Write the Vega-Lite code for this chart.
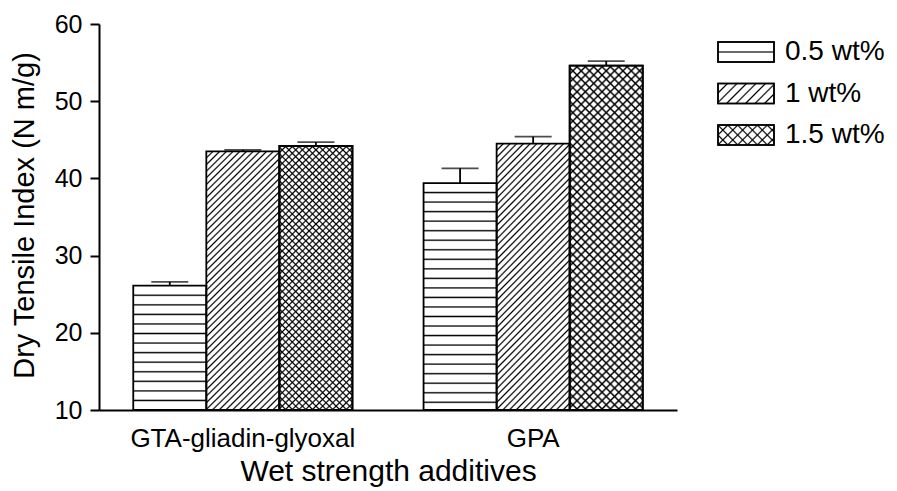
{
  "$schema": "https://vega.github.io/schema/vega-lite/v6.json",
  "width": 578,
  "height": 386,
  "autosize": {"type": "none"},
  "padding": {"left": 99, "top": 24, "right": 220, "bottom": 81},
  "background": "white",
  "config": {
    "font": "Liberation Sans",
    "view": {"stroke": null},
    "axis": {"labelColor": "black", "titleColor": "black", "domainColor": "black", "tickColor": "black", "titleFontWeight": "normal", "grid": false}
  },
  "params": [
    {"name": "sC", "value": [
      {"offset":0.015,"color":"transparent"},{"offset":0.02,"color":"black"},{"offset":0.025,"color":"transparent"},
      {"offset":0.035,"color":"transparent"},{"offset":0.04,"color":"black"},{"offset":0.045,"color":"transparent"},
      {"offset":0.055,"color":"transparent"},{"offset":0.06,"color":"black"},{"offset":0.065,"color":"transparent"},
      {"offset":0.075,"color":"transparent"},{"offset":0.08,"color":"black"},{"offset":0.085,"color":"transparent"},
      {"offset":0.095,"color":"transparent"},{"offset":0.1,"color":"black"},{"offset":0.105,"color":"transparent"},
      {"offset":0.115,"color":"transparent"},{"offset":0.12,"color":"black"},{"offset":0.125,"color":"transparent"},
      {"offset":0.135,"color":"transparent"},{"offset":0.14,"color":"black"},{"offset":0.145,"color":"transparent"},
      {"offset":0.155,"color":"transparent"},{"offset":0.16,"color":"black"},{"offset":0.165,"color":"transparent"},
      {"offset":0.175,"color":"transparent"},{"offset":0.18,"color":"black"},{"offset":0.185,"color":"transparent"},
      {"offset":0.195,"color":"transparent"},{"offset":0.2,"color":"black"},{"offset":0.205,"color":"transparent"},
      {"offset":0.215,"color":"transparent"},{"offset":0.22,"color":"black"},{"offset":0.225,"color":"transparent"},
      {"offset":0.235,"color":"transparent"},{"offset":0.24,"color":"black"},{"offset":0.245,"color":"transparent"},
      {"offset":0.255,"color":"transparent"},{"offset":0.26,"color":"black"},{"offset":0.265,"color":"transparent"},
      {"offset":0.275,"color":"transparent"},{"offset":0.28,"color":"black"},{"offset":0.285,"color":"transparent"},
      {"offset":0.295,"color":"transparent"},{"offset":0.3,"color":"black"},{"offset":0.305,"color":"transparent"},
      {"offset":0.315,"color":"transparent"},{"offset":0.32,"color":"black"},{"offset":0.325,"color":"transparent"},
      {"offset":0.335,"color":"transparent"},{"offset":0.34,"color":"black"},{"offset":0.345,"color":"transparent"},
      {"offset":0.355,"color":"transparent"},{"offset":0.36,"color":"black"},{"offset":0.365,"color":"transparent"},
      {"offset":0.375,"color":"transparent"},{"offset":0.38,"color":"black"},{"offset":0.385,"color":"transparent"},
      {"offset":0.395,"color":"transparent"},{"offset":0.4,"color":"black"},{"offset":0.405,"color":"transparent"},
      {"offset":0.415,"color":"transparent"},{"offset":0.42,"color":"black"},{"offset":0.425,"color":"transparent"},
      {"offset":0.435,"color":"transparent"},{"offset":0.44,"color":"black"},{"offset":0.445,"color":"transparent"},
      {"offset":0.455,"color":"transparent"},{"offset":0.46,"color":"black"},{"offset":0.465,"color":"transparent"},
      {"offset":0.475,"color":"transparent"},{"offset":0.48,"color":"black"},{"offset":0.485,"color":"transparent"},
      {"offset":0.495,"color":"transparent"},{"offset":0.5,"color":"black"},{"offset":0.505,"color":"transparent"},
      {"offset":0.515,"color":"transparent"},{"offset":0.52,"color":"black"},{"offset":0.525,"color":"transparent"},
      {"offset":0.535,"color":"transparent"},{"offset":0.54,"color":"black"},{"offset":0.545,"color":"transparent"},
      {"offset":0.555,"color":"transparent"},{"offset":0.56,"color":"black"},{"offset":0.565,"color":"transparent"},
      {"offset":0.575,"color":"transparent"},{"offset":0.58,"color":"black"},{"offset":0.585,"color":"transparent"},
      {"offset":0.595,"color":"transparent"},{"offset":0.6,"color":"black"},{"offset":0.605,"color":"transparent"},
      {"offset":0.615,"color":"transparent"},{"offset":0.62,"color":"black"},{"offset":0.625,"color":"transparent"},
      {"offset":0.635,"color":"transparent"},{"offset":0.64,"color":"black"},{"offset":0.645,"color":"transparent"},
      {"offset":0.655,"color":"transparent"},{"offset":0.66,"color":"black"},{"offset":0.665,"color":"transparent"},
      {"offset":0.675,"color":"transparent"},{"offset":0.68,"color":"black"},{"offset":0.685,"color":"transparent"},
      {"offset":0.695,"color":"transparent"},{"offset":0.7,"color":"black"},{"offset":0.705,"color":"transparent"},
      {"offset":0.715,"color":"transparent"},{"offset":0.72,"color":"black"},{"offset":0.725,"color":"transparent"},
      {"offset":0.735,"color":"transparent"},{"offset":0.74,"color":"black"},{"offset":0.745,"color":"transparent"},
      {"offset":0.755,"color":"transparent"},{"offset":0.76,"color":"black"},{"offset":0.765,"color":"transparent"},
      {"offset":0.775,"color":"transparent"},{"offset":0.78,"color":"black"},{"offset":0.785,"color":"transparent"},
      {"offset":0.795,"color":"transparent"},{"offset":0.8,"color":"black"},{"offset":0.805,"color":"transparent"},
      {"offset":0.815,"color":"transparent"},{"offset":0.82,"color":"black"},{"offset":0.825,"color":"transparent"},
      {"offset":0.835,"color":"transparent"},{"offset":0.84,"color":"black"},{"offset":0.845,"color":"transparent"},
      {"offset":0.855,"color":"transparent"},{"offset":0.86,"color":"black"},{"offset":0.865,"color":"transparent"},
      {"offset":0.875,"color":"transparent"},{"offset":0.88,"color":"black"},{"offset":0.885,"color":"transparent"},
      {"offset":0.895,"color":"transparent"},{"offset":0.9,"color":"black"},{"offset":0.905,"color":"transparent"},
      {"offset":0.915,"color":"transparent"},{"offset":0.92,"color":"black"},{"offset":0.925,"color":"transparent"},
      {"offset":0.935,"color":"transparent"},{"offset":0.94,"color":"black"},{"offset":0.945,"color":"transparent"},
      {"offset":0.955,"color":"transparent"},{"offset":0.96,"color":"black"},{"offset":0.965,"color":"transparent"},
      {"offset":0.975,"color":"transparent"},{"offset":0.98,"color":"black"},{"offset":0.985,"color":"transparent"}
    ]},
    {"name": "hA", "value": [
      {"offset":0.0659,"color":"transparent"},{"offset":0.0769,"color":"black"},{"offset":0.0879,"color":"transparent"},
      {"offset":0.1428,"color":"transparent"},{"offset":0.1538,"color":"black"},{"offset":0.1648,"color":"transparent"},
      {"offset":0.2198,"color":"transparent"},{"offset":0.2308,"color":"black"},{"offset":0.2418,"color":"transparent"},
      {"offset":0.2967,"color":"transparent"},{"offset":0.3077,"color":"black"},{"offset":0.3187,"color":"transparent"},
      {"offset":0.3736,"color":"transparent"},{"offset":0.3846,"color":"black"},{"offset":0.3956,"color":"transparent"},
      {"offset":0.4505,"color":"transparent"},{"offset":0.4615,"color":"black"},{"offset":0.4725,"color":"transparent"},
      {"offset":0.5275,"color":"transparent"},{"offset":0.5385,"color":"black"},{"offset":0.5495,"color":"transparent"},
      {"offset":0.6044,"color":"transparent"},{"offset":0.6154,"color":"black"},{"offset":0.6264,"color":"transparent"},
      {"offset":0.6813,"color":"transparent"},{"offset":0.6923,"color":"black"},{"offset":0.7033,"color":"transparent"},
      {"offset":0.7582,"color":"transparent"},{"offset":0.7692,"color":"black"},{"offset":0.7802,"color":"transparent"},
      {"offset":0.8352,"color":"transparent"},{"offset":0.8462,"color":"black"},{"offset":0.8572,"color":"transparent"},
      {"offset":0.9121,"color":"transparent"},{"offset":0.9231,"color":"black"},{"offset":0.9341,"color":"transparent"}
    ]},
    {"name": "hB", "value": [
      {"offset":0.036,"color":"transparent"},{"offset":0.042,"color":"black"},{"offset":0.048,"color":"transparent"},
      {"offset":0.078,"color":"transparent"},{"offset":0.084,"color":"black"},{"offset":0.09,"color":"transparent"},
      {"offset":0.12,"color":"transparent"},{"offset":0.126,"color":"black"},{"offset":0.132,"color":"transparent"},
      {"offset":0.162,"color":"transparent"},{"offset":0.168,"color":"black"},{"offset":0.174,"color":"transparent"},
      {"offset":0.204,"color":"transparent"},{"offset":0.21,"color":"black"},{"offset":0.216,"color":"transparent"},
      {"offset":0.246,"color":"transparent"},{"offset":0.252,"color":"black"},{"offset":0.258,"color":"transparent"},
      {"offset":0.288,"color":"transparent"},{"offset":0.294,"color":"black"},{"offset":0.3,"color":"transparent"},
      {"offset":0.33,"color":"transparent"},{"offset":0.336,"color":"black"},{"offset":0.342,"color":"transparent"},
      {"offset":0.372,"color":"transparent"},{"offset":0.378,"color":"black"},{"offset":0.384,"color":"transparent"},
      {"offset":0.414,"color":"transparent"},{"offset":0.42,"color":"black"},{"offset":0.426,"color":"transparent"},
      {"offset":0.456,"color":"transparent"},{"offset":0.462,"color":"black"},{"offset":0.468,"color":"transparent"},
      {"offset":0.498,"color":"transparent"},{"offset":0.504,"color":"black"},{"offset":0.51,"color":"transparent"},
      {"offset":0.54,"color":"transparent"},{"offset":0.546,"color":"black"},{"offset":0.552,"color":"transparent"},
      {"offset":0.582,"color":"transparent"},{"offset":0.588,"color":"black"},{"offset":0.594,"color":"transparent"},
      {"offset":0.624,"color":"transparent"},{"offset":0.63,"color":"black"},{"offset":0.636,"color":"transparent"},
      {"offset":0.666,"color":"transparent"},{"offset":0.672,"color":"black"},{"offset":0.678,"color":"transparent"},
      {"offset":0.708,"color":"transparent"},{"offset":0.714,"color":"black"},{"offset":0.72,"color":"transparent"},
      {"offset":0.75,"color":"transparent"},{"offset":0.756,"color":"black"},{"offset":0.762,"color":"transparent"},
      {"offset":0.792,"color":"transparent"},{"offset":0.798,"color":"black"},{"offset":0.804,"color":"transparent"},
      {"offset":0.834,"color":"transparent"},{"offset":0.84,"color":"black"},{"offset":0.846,"color":"transparent"},
      {"offset":0.876,"color":"transparent"},{"offset":0.882,"color":"black"},{"offset":0.888,"color":"transparent"},
      {"offset":0.918,"color":"transparent"},{"offset":0.924,"color":"black"},{"offset":0.93,"color":"transparent"},
      {"offset":0.96,"color":"transparent"},{"offset":0.966,"color":"black"},{"offset":0.972,"color":"transparent"}
    ]}
  ],
  "data": {"values": [
    {"additive": "GTA-gliadin-glyoxal", "conc": "0.5 wt%", "value": 26.1, "upper": 26.6},
    {"additive": "GTA-gliadin-glyoxal", "conc": "1 wt%", "value": 43.5, "upper": 43.7},
    {"additive": "GTA-gliadin-glyoxal", "conc": "1.5 wt%", "value": 44.2, "upper": 44.7},
    {"additive": "GPA", "conc": "0.5 wt%", "value": 39.4, "upper": 41.3},
    {"additive": "GPA", "conc": "1 wt%", "value": 44.5, "upper": 45.4},
    {"additive": "GPA", "conc": "1.5 wt%", "value": 54.6, "upper": 55.2}
  ]},
  "encoding": {
    "x": {
      "field": "additive", "type": "nominal",
      "sort": ["GTA-gliadin-glyoxal", "GPA"],
      "scale": {"paddingInner": 0.245, "paddingOuter": 0.118},
      "axis": {"title": "Wet strength additives", "labelAngle": 0, "ticks": false, "tickSize": 0, "labelPadding": 15, "labelFontSize": 26, "labelLimit": 0, "titleFontSize": 30, "titleY": 70, "titleBaseline": "alphabetic", "domainWidth": 2}
    },
    "xOffset": {"field": "conc", "type": "nominal", "sort": ["0.5 wt%", "1 wt%", "1.5 wt%"], "scale": {"paddingInner": 0, "paddingOuter": 0}},
    "y": {
      "field": "value", "type": "quantitative",
      "scale": {"domain": [10, 60], "nice": false, "zero": false},
      "axis": {"title": "Dry Tensile Index (N m/g)", "values": [10, 20, 30, 40, 50, 60], "tickSize": 9, "tickWidth": 2, "domainWidth": 2, "labelPadding": 8, "labelFontSize": 25, "titleFontSize": 29, "titleX": -66, "titleY": 191, "titleBaseline": "alphabetic"}
    }
  },
  "layer": [
    {
      "mark": {"type": "bar", "stroke": "black", "strokeWidth": 1.8,
        "fill": {"expr": "datum.conc==='0.5 wt%' ? {gradient:'linear',x1:0,y1:0,x2:0,y2:1,stops:(datum.additive==='GPA'?hB:hA)} : datum.conc==='1 wt%' ? {gradient:'linear',x1:0,y1:0,x2:0.3309,y2:1.1866,stops:sC} : datum.additive==='GPA' ? {gradient:'linear',x1:0,y1:0,x2:0.2462,y2:1.16,stops:sC} : {gradient:'linear',x1:0,y1:0,x2:0.3282,y2:1.1859,stops:sC}"}},
      "encoding": {"y2": {"datum": 10}}
    },
    {
      "transform": [{"filter": "datum.conc==='1.5 wt%'"}],
      "mark": {"type": "bar", "stroke": "black", "strokeWidth": 1.8,
        "fill": {"expr": "datum.additive==='GPA' ? {gradient:'linear',x1:0,y1:1,x2:0.2462,y2:-0.16,stops:sC} : {gradient:'linear',x1:0,y1:1,x2:0.3282,y2:-0.1859,stops:sC}"}},
      "encoding": {"y2": {"datum": 10}}
    },
    {
      "mark": {"type": "rule", "color": "black", "strokeWidth": 1.8},
      "encoding": {"y2": {"field": "upper"}}
    },
    {
      "mark": {"type": "tick", "color": "black", "size": 37, "thickness": 1.8},
      "encoding": {"y": {"field": "upper", "type": "quantitative"}}
    },
    {
      "transform": [{"filter": "false"}],
      "mark": {"type": "bar", "stroke": "black"},
      "encoding": {
        "y2": {"datum": 10},
        "fill": {
          "field": "conc", "type": "nominal",
          "scale": {"domain": ["0.5 wt%", "1 wt%", "1.5 wt%"], "range": [
            {"expr": "{gradient:'linear',x1:0,y1:0,x2:0,y2:1,stops:[{offset:0.44,color:'transparent'},{offset:0.5,color:'black'},{offset:0.56,color:'transparent'}]}"},
            {"expr": "{gradient:'linear',x1:0,y1:0,x2:1.2036,y2:0.4299,stops:[{offset:0.103,color:'transparent'},{offset:0.125,color:'black'},{offset:0.147,color:'transparent'},{offset:0.228,color:'transparent'},{offset:0.25,color:'black'},{offset:0.272,color:'transparent'},{offset:0.353,color:'transparent'},{offset:0.375,color:'black'},{offset:0.397,color:'transparent'},{offset:0.478,color:'transparent'},{offset:0.5,color:'black'},{offset:0.522,color:'transparent'},{offset:0.603,color:'transparent'},{offset:0.625,color:'black'},{offset:0.647,color:'transparent'},{offset:0.728,color:'transparent'},{offset:0.75,color:'black'},{offset:0.772,color:'transparent'},{offset:0.853,color:'transparent'},{offset:0.875,color:'black'},{offset:0.897,color:'transparent'}]}"},
            {"expr": "{gradient:'linear',x1:0,y1:0,x2:1.2036,y2:0.4299,stops:[{offset:0.108,color:'transparent'},{offset:0.13,color:'black'},{offset:0.152,color:'transparent'},{offset:0.238,color:'transparent'},{offset:0.26,color:'black'},{offset:0.282,color:'transparent'},{offset:0.368,color:'transparent'},{offset:0.39,color:'black'},{offset:0.412,color:'transparent'},{offset:0.498,color:'transparent'},{offset:0.52,color:'black'},{offset:0.542,color:'transparent'},{offset:0.628,color:'transparent'},{offset:0.65,color:'black'},{offset:0.672,color:'transparent'},{offset:0.758,color:'transparent'},{offset:0.78,color:'black'},{offset:0.802,color:'transparent'},{offset:0.888,color:'transparent'},{offset:0.91,color:'black'},{offset:0.932,color:'transparent'}]}"}
          ]},
          "legend": {"orient": "none", "legendX": 632, "legendY": 13, "title": null, "padding": 0,
            "symbolType": "M-2,-0.714L2,-0.714L2,0.714L-2,0.714Z", "symbolSize": 784,
            "symbolStrokeColor": "black", "symbolStrokeWidth": 1.5,
            "labelFontSize": 28, "labelOffset": 24, "rowPadding": 12.5, "labelColor": "black", "labelLimit": 0}
        }
      }
    },
    {
      "transform": [{"filter": "false"}],
      "mark": {"type": "bar", "stroke": "black"},
      "encoding": {
        "y2": {"datum": 10},
        "fill": {
          "field": "conc", "type": "nominal",
          "scale": {"domain": ["0.5 wt%", "1 wt%", "1.5 wt%"], "range": [
            "transparent",
            "transparent",
            {"expr": "{gradient:'linear',x1:0,y1:1,x2:1.2036,y2:0.5701,stops:[{offset:0.108,color:'transparent'},{offset:0.13,color:'black'},{offset:0.152,color:'transparent'},{offset:0.238,color:'transparent'},{offset:0.26,color:'black'},{offset:0.282,color:'transparent'},{offset:0.368,color:'transparent'},{offset:0.39,color:'black'},{offset:0.412,color:'transparent'},{offset:0.498,color:'transparent'},{offset:0.52,color:'black'},{offset:0.542,color:'transparent'},{offset:0.628,color:'transparent'},{offset:0.65,color:'black'},{offset:0.672,color:'transparent'},{offset:0.758,color:'transparent'},{offset:0.78,color:'black'},{offset:0.802,color:'transparent'},{offset:0.888,color:'transparent'},{offset:0.91,color:'black'},{offset:0.932,color:'transparent'}]}"}
          ]},
          "legend": {"orient": "none", "legendX": 632, "legendY": 13, "title": null, "padding": 0,
            "symbolType": "M-2,-0.714L2,-0.714L2,0.714L-2,0.714Z", "symbolSize": 784,
            "symbolStrokeColor": "black", "symbolStrokeWidth": 1.5,
            "labelFontSize": 28, "labelOffset": 24, "rowPadding": 12.5, "labelOpacity": 0, "labelLimit": 0}
        }
      }
    }
  ],
  "resolve": {"scale": {"fill": "independent"}}
}
